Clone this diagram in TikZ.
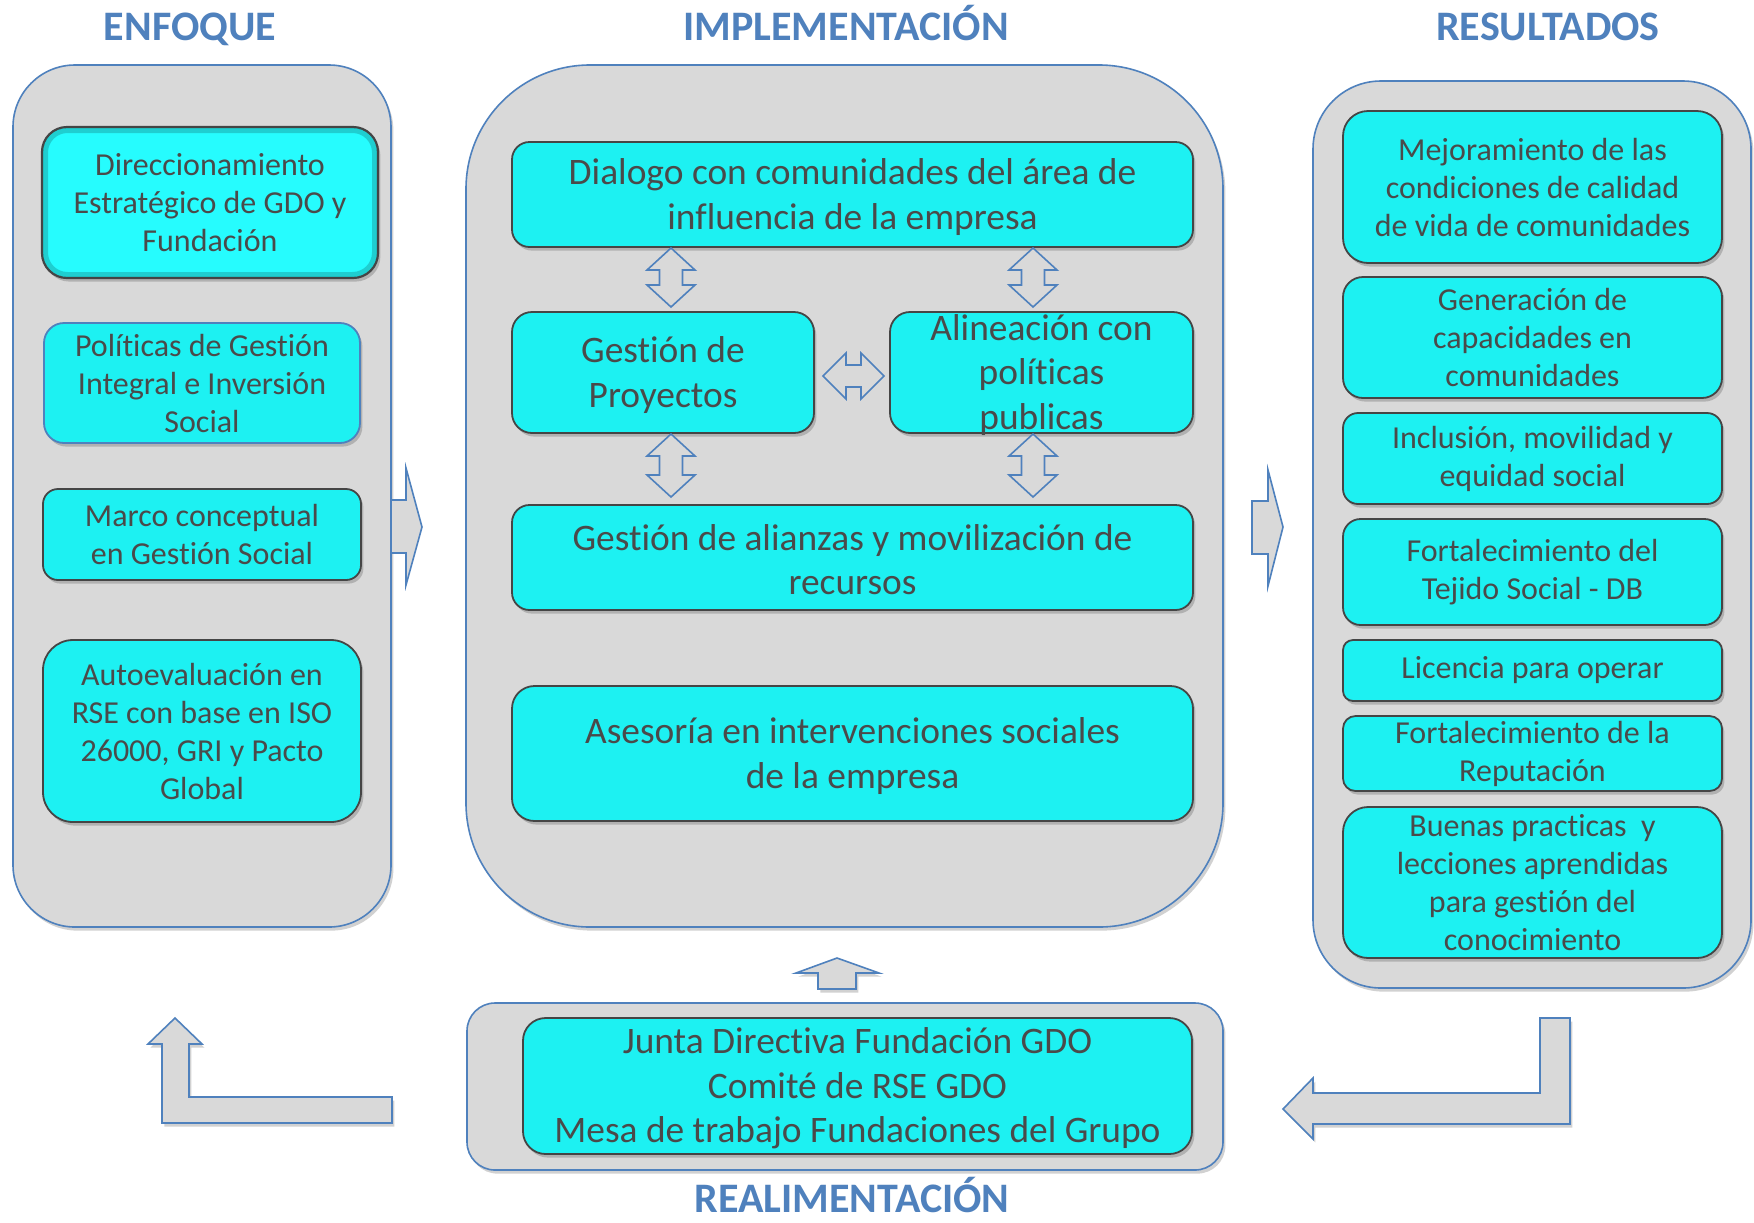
\documentclass[tikz,border=0pt]{standalone}
\usepackage{fontspec}
\setmainfont{Carlito}[Ligatures=NoCommon]
\usetikzlibrary{shadows,fit,calc}
\definecolor{panelfill}{HTML}{D9D9D9}
\definecolor{blueline}{HTML}{4F81BD}
\definecolor{cyanfill}{HTML}{1DF1F2}
\definecolor{cyanbright}{HTML}{26FCFE}
\definecolor{txtgray}{HTML}{4A4A4A}
\definecolor{boxline}{HTML}{454545}
\tikzset{
 panel/.style={draw=blueline, line width=0.8pt, fill=panelfill},
 shd/.style={drop shadow={shadow xshift=1.2pt, shadow yshift=-1.8pt, opacity=0.18, fill=black}},
 cbox/.style={draw=boxline, line width=0.9pt, fill=cyanfill, shd},
 ttl/.style={font=\fontsize{21}{25}\selectfont\bfseries, text=blueline, anchor=base, inner sep=0pt},
 tsmall/.style={font=\fontsize{16}{19}\selectfont, text=txtgray, align=center, inner sep=0pt},
 tbig/.style={font=\fontsize{18.7}{22.2}\selectfont, text=txtgray, align=center, inner sep=0pt, yshift=-1.2pt},
 blk/.style={draw=blueline, line width=0.8pt, fill=panelfill, line join=miter},
}
% \cb[extra]{name}{x1,y1}{x2,y2}{radius}{text style}{text}
\newcommand\cb[7][]{%
  \node[cbox,#1,rounded corners=#5,fit={(#3) (#4)},inner sep=0pt] (#2) {};
  \node[#6] (#2-t) at (#2.center) {#7};}
% vertical double block arrow: x, ytop, ybot
\newcommand\vdarr[3]{%
  \draw[blk] (#1,#2) -- ({#1+24},{#2+22}) -- ({#1+11.5},{#2+22}) -- ({#1+11.5},{#3-22})
    -- ({#1+24},{#3-22}) -- (#1,#3) -- ({#1-24},{#3-22}) -- ({#1-11.5},{#3-22})
    -- ({#1-11.5},{#2+22}) -- ({#1-24},{#2+22}) -- cycle;}
% horizontal double block arrow: xl, xr, y
\newcommand\hdarr[3]{%
  \draw[blk] (#1,#3) -- ({#1+23},{#3-23}) -- ({#1+23},{#3-11}) -- ({#2-23},{#3-11})
    -- ({#2-23},{#3-23}) -- (#2,#3) -- ({#2-23},{#3+23}) -- ({#2-23},{#3+11})
    -- ({#1+23},{#3+11}) -- ({#1+23},{#3+23}) -- cycle;}
\begin{document}
\begin{tikzpicture}[x=0.5pt,y=-0.5pt]
\useasboundingbox (0,0) rectangle (1754,1222);
\fill[white] (0,0) rectangle (1754,1222);

% titles
\node[ttl] (t1) at (190,40) {ENFOQUE};
\node[ttl] (t2) at (846,40) {IMPLEMENTACIÓN};
\node[ttl] (t3) at (1548,40) {RESULTADOS};
\node[ttl] (t4) at (852,1212) {REALIMENTACIÓN};

% panels
\node[panel,shd,rounded corners=31pt,fit={(13,65) (391,927)},inner sep=0pt] (enfoque) {};
\node[panel,shd,rounded corners=62pt,fit={(466,65) (1223,927)},inner sep=0pt] (impl) {};
\node[panel,shd,rounded corners=34pt,fit={(1313,81) (1751,988)},inner sep=0pt] (result) {};
\node[panel,shd,rounded corners=14pt,fit={(467,1003) (1223,1170)},inner sep=0pt] (realim) {};

% arrows between panels
\fill[panelfill] (392,500) -- (406,500) -- (406,468) -- (422,527) -- (406,585) -- (406,553) -- (392,553) -- cycle;
\draw[blueline, line width=0.8pt] (392,500) -- (406,500) -- (406,468) -- (422,527) -- (406,585) -- (406,553) -- (392,553);
\draw[blk] (1252,501) -- (1268,501) -- (1268,470) -- (1283,527) -- (1268,586) -- (1268,554) -- (1252,554) -- cycle;

% feedback arrows
\draw[blk,shd] (392,1097) -- (189,1097) -- (189,1044) -- (202,1044) -- (175,1018) -- (148,1044)
   -- (162,1044) -- (162,1123) -- (392,1123) -- cycle;
\draw[blk,shd] (1540,1018) -- (1570,1018) -- (1570,1124) -- (1313,1124) -- (1313,1139)
   -- (1283,1109) -- (1313,1078) -- (1313,1093) -- (1540,1093) -- cycle;
\draw[blk,shd] (818,989) -- (818,973) -- (796,973) -- (837,958) -- (879,973) -- (856,973) -- (856,989) -- cycle;

% ENFOQUE boxes
\cb[fill=cyanbright, line width=1.1pt]{dir}{42,127}{378,278}{12.5pt}{tsmall}{Direccionamiento\\Estratégico de GDO y\\Fundación}
\draw[black, opacity=0.18, line width=2.5pt, rounded corners=11pt] (45.5,130.5) rectangle (374.5,274.5);
\cb[draw=blueline]{pol}{44,323}{360,443}{10pt}{tsmall}{Políticas de Gestión\\Integral e Inversión\\Social}
\cb{marco}{43,489}{361,580}{7.5pt}{tsmall}{Marco conceptual\\en Gestión Social}
\cb{auto}{43,640}{361,822}{15pt}{tsmall}{Autoevaluación en\\RSE con base en ISO\\26000, GRI y Pacto\\Global}

% IMPLEMENTACION boxes
\cb{dia}{512,142}{1193,247}{8.75pt}{tbig}{Dialogo con comunidades del área de\\influencia de la empresa}
\cb{gp}{512,312}{814,433}{10pt}{tbig}{Gestión de\\Proyectos}
\cb{ali}{890,312}{1193,433}{10pt}{tbig}{Alineación con\\políticas\\publicas}
\cb{alz}{512,505}{1193,610}{8.75pt}{tbig}{Gestión de alianzas y movilización de\\recursos}
\cb{ase}{512,686}{1193,821}{11.25pt}{tbig}{Asesoría en intervenciones sociales\\de la empresa}

\vdarr{671}{248}{307}
\vdarr{1033}{248}{307}
\vdarr{671}{434}{497}
\vdarr{1033}{434}{497}
\hdarr{823}{884}{376}

% RESULTADOS boxes
\cb{mej}{1343,111}{1722,263}{12.5pt}{tsmall}{Mejoramiento de las\\condiciones de calidad\\de vida de comunidades}
\cb{gen}{1343,277}{1722,398}{10pt}{tsmall}{Generación de\\capacidades en\\comunidades}
\cb{inc}{1343,413}{1722,504}{7.5pt}{tsmall}{Inclusión, movilidad y\\equidad social}
\cb{tej}{1343,519}{1722,625}{8.8pt}{tsmall}{Fortalecimiento del\\Tejido Social - DB}
\cb{lic}{1343,640}{1722,701}{5pt}{tsmall}{Licencia para operar}
\cb{rep}{1343,716}{1722,791}{6.25pt}{tsmall}{Fortalecimiento de la\\Reputación}
\cb{bue}{1343,807}{1722,958}{12.5pt}{tsmall}{Buenas practicas\ \ y\\lecciones aprendidas\\para gestión del\\conocimiento}

% REALIMENTACION box
\cb{jun}{523,1018}{1192,1154}{11.3pt}{tbig}{Junta Directiva Fundación GDO\\Comité de RSE GDO\\Mesa de trabajo Fundaciones del Grupo}
\end{tikzpicture}
\end{document}
